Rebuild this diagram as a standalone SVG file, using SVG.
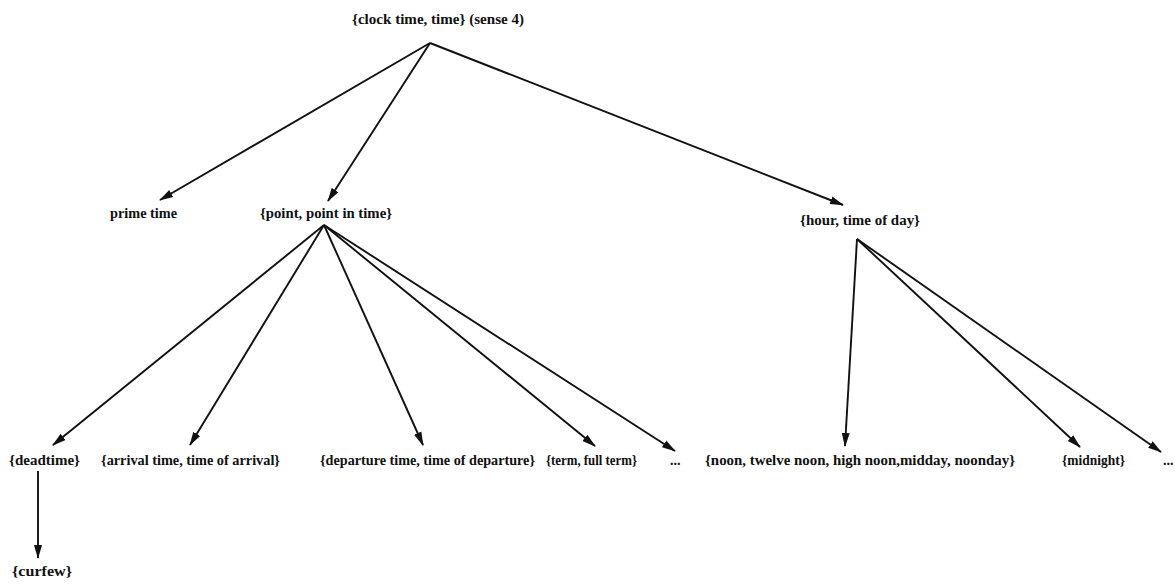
<svg xmlns="http://www.w3.org/2000/svg" width="1175" height="586" viewBox="0 0 1175 586">
<defs>
<style>
text{font-family:"Liberation Serif","Times New Roman",serif;font-size:14px;font-weight:bold;fill:#111}
.e{stroke:#111;stroke-width:1.9;fill:none;marker-end:url(#ah)}
</style>
<marker id="ah" markerUnits="userSpaceOnUse" markerWidth="14" markerHeight="10" viewBox="0 0 14 10" refX="13" refY="5" orient="auto">
<path d="M0,1 L14,5 L0,9 Z" fill="#111"/>
</marker>
</defs>
<rect width="1175" height="586" fill="#fff"/>
<g id="connectors">
<line class="e" x1="430" y1="43" x2="160" y2="200"/>
<line class="e" x1="430" y1="43" x2="328" y2="201"/>
<line class="e" x1="430" y1="43" x2="843" y2="205"/>
<line class="e" x1="324" y1="225" x2="53" y2="445"/>
<line class="e" x1="324" y1="225" x2="190" y2="445"/>
<line class="e" x1="324" y1="225" x2="423" y2="445"/>
<line class="e" x1="324" y1="225" x2="595" y2="446"/>
<line class="e" x1="324" y1="225" x2="675" y2="451"/>
<line class="e" x1="857" y1="239" x2="845" y2="446"/>
<line class="e" x1="857" y1="239" x2="1080" y2="447"/>
<line class="e" x1="857" y1="239" x2="1161" y2="452"/>
<line class="e" x1="38" y1="471" x2="38" y2="558"/>
</g>
<g id="n-root"><text x="352" y="24" textLength="172" lengthAdjust="spacingAndGlyphs">{clock time, time} (sense 4)</text></g>
<g id="n-prime"><text x="110" y="218" textLength="67" lengthAdjust="spacingAndGlyphs">prime time</text></g>
<g id="n-point"><text x="260" y="218" textLength="132" lengthAdjust="spacingAndGlyphs">{point, point in time}</text></g>
<g id="n-hour"><text x="800" y="225" textLength="120" lengthAdjust="spacingAndGlyphs">{hour, time of day}</text></g>
<g id="n-deadtime"><text x="9" y="465" textLength="71" lengthAdjust="spacingAndGlyphs">{deadtime}</text></g>
<g id="n-arrival"><text x="101" y="465" textLength="179" lengthAdjust="spacingAndGlyphs">{arrival time, time of arrival}</text></g>
<g id="n-departure"><text x="320" y="465" textLength="215" lengthAdjust="spacingAndGlyphs">{departure time, time of departure}</text></g>
<g id="n-term"><text x="546" y="465" textLength="91" lengthAdjust="spacingAndGlyphs">{term, full term}</text></g>
<g id="n-more1"><text x="670" y="465">...</text></g>
<g id="n-noon"><text x="705" y="465" textLength="310" lengthAdjust="spacingAndGlyphs">{noon, twelve noon, high noon,midday, noonday}</text></g>
<g id="n-midnight"><text x="1062" y="465" textLength="63" lengthAdjust="spacingAndGlyphs">{midnight}</text></g>
<g id="n-more2"><text x="1163" y="465">...</text></g>
<g id="n-curfew"><text x="12" y="576" textLength="60" lengthAdjust="spacingAndGlyphs">{curfew}</text></g>
</svg>
